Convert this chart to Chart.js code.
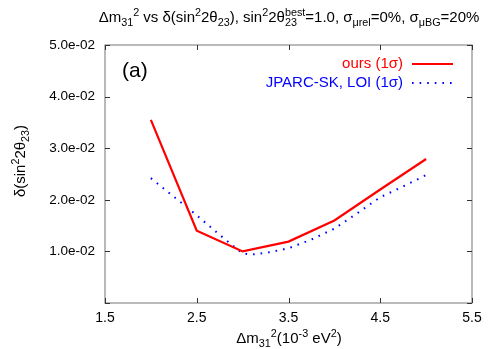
<!DOCTYPE html>
<html>
<head>
<meta charset="utf-8">
<script src="https://cdn.jsdelivr.net/npm/chart.js@4/dist/chart.umd.min.js"></script>
<style>
  html, body { margin: 0; padding: 0; background: #fff; }
  #wrap { width: 498px; height: 349px; }
</style>
</head>
<body>
<div id="wrap"><canvas id="sensChart" width="498" height="349"></canvas></div>
<script>
// values
const X_OURS = [2.0, 2.5, 3.0, 3.5, 4.0, 4.5, 5.0]
const Y_OURS = [0.0355, 0.0140, 0.0100, 0.0119, 0.0160, 0.0220, 0.0279]

const X_LOI = [2.0, 2.25, 2.5, 2.75, 3.0, 3.1, 3.25, 3.5, 3.75, 4.0, 4.25, 4.5, 4.75, 5.0]
const Y_LOI = [0.0242, 0.0206, 0.0170, 0.0132, 0.0096, 0.0094, 0.0097, 0.0106, 0.0123, 0.0144, 0.0174, 0.0205, 0.0226, 0.0248]

const X_TICKS = [1.5, 2.5, 3.5, 4.5, 5.5]
const Y_TICKS = [0, 0.01, 0.02, 0.03, 0.04, 0.05]

const FONT = '"Liberation Sans", Arial, sans-serif'

// draw text with super/subscripts; part = {t, k} where k is 'n', '^', '_' or '^_' (t = sup, s = sub)
function richWidth(ctx, parts, size) {
    let w = 0
    parts.forEach((p) => {
        if (p.k === 'n') {
            ctx.font = size + 'px ' + FONT
            w += ctx.measureText(p.t).width
        } else if (p.k === '^_') {
            ctx.font = (size * 0.72) + 'px ' + FONT
            w += Math.max(ctx.measureText(p.t).width, ctx.measureText(p.s).width)
        } else {
            ctx.font = (size * 0.72) + 'px ' + FONT
            w += ctx.measureText(p.t).width
        }
    })
    return w
}

function drawRich(ctx, parts, x, y, size, color, align) {
    ctx.save()
    ctx.fillStyle = color
    ctx.textBaseline = 'alphabetic'
    ctx.textAlign = 'left'
    let w = richWidth(ctx, parts, size)
    let cx = x
    if (align === 'center') cx = x - w / 2
    if (align === 'right') cx = x - w
    parts.forEach((p) => {
        if (p.k === 'n') {
            ctx.font = size + 'px ' + FONT
            ctx.fillText(p.t, cx, y)
            cx += ctx.measureText(p.t).width
        } else if (p.k === '^') {
            ctx.font = (size * 0.72) + 'px ' + FONT
            ctx.fillText(p.t, cx, y - size * 0.42)
            cx += ctx.measureText(p.t).width
        } else if (p.k === '_') {
            ctx.font = (size * 0.72) + 'px ' + FONT
            ctx.fillText(p.t, cx, y + size * 0.28)
            cx += ctx.measureText(p.t).width
        } else {
            ctx.font = (size * 0.72) + 'px ' + FONT
            ctx.fillText(p.t, cx, y - size * 0.42)
            ctx.fillText(p.s, cx, y + size * 0.28)
            cx += Math.max(ctx.measureText(p.t).width, ctx.measureText(p.s).width)
        }
    })
    ctx.restore()
}

const TITLE = [
    {t: 'Δm', k: 'n'}, {t: '31', k: '_'}, {t: '2', k: '^'},
    {t: ' vs δ(sin', k: 'n'}, {t: '2', k: '^'}, {t: '2θ', k: 'n'}, {t: '23', k: '_'},
    {t: '), sin', k: 'n'}, {t: '2', k: '^'}, {t: '2θ', k: 'n'}, {t: 'best', s: '23', k: '^_'},
    {t: '=1.0, σ', k: 'n'}, {t: 'μrel', k: '_'}, {t: '=0%, σ', k: 'n'}, {t: 'μBG', k: '_'},
    {t: '=20%', k: 'n'}
]
const X_TITLE = [
    {t: 'Δm', k: 'n'}, {t: '31', k: '_'}, {t: '2', k: '^'},
    {t: '(10', k: 'n'}, {t: '-3', k: '^'}, {t: ' eV', k: 'n'}, {t: '2', k: '^'}, {t: ')', k: 'n'}
]
const Y_TITLE = [
    {t: 'δ(sin', k: 'n'}, {t: '2', k: '^'}, {t: '2θ', k: 'n'}, {t: '23', k: '_'}, {t: ')', k: 'n'}
]

const decor = {
    id: 'decor',
    afterDraw(chart) {
        const ctx = chart.ctx
        const a = chart.chartArea
        const xs = chart.scales.x
        const ys = chart.scales.y

        // frame
        ctx.save()
        ctx.strokeStyle = '#8c8c8c'
        ctx.lineWidth = 1.2
        ctx.strokeRect(a.left, a.top, a.right - a.left, a.bottom - a.top)

        // inward ticks on all four sides
        ctx.strokeStyle = '#333'
        ctx.lineWidth = 1
        X_TICKS.forEach((v) => {
            const px = Math.round(xs.getPixelForValue(v)) + 0.5
            ctx.beginPath()
            ctx.moveTo(px, a.bottom); ctx.lineTo(px, a.bottom - 5)
            ctx.moveTo(px, a.top); ctx.lineTo(px, a.top + 5)
            ctx.stroke()
        })
        Y_TICKS.forEach((v) => {
            const py = Math.round(ys.getPixelForValue(v)) + 0.5
            ctx.beginPath()
            ctx.moveTo(a.left, py); ctx.lineTo(a.left + 5, py)
            ctx.moveTo(a.right, py); ctx.lineTo(a.right - 5, py)
            ctx.stroke()
        })
        ctx.restore()

        // titles
        drawRich(ctx, TITLE, 289, 22, 15, '#000', 'center')
        drawRich(ctx, X_TITLE, 289, 343, 15, '#000', 'center')
        ctx.save()
        ctx.translate(20, 161)
        ctx.rotate(-Math.PI / 2)
        drawRich(ctx, Y_TITLE, 0, 5, 15, '#000', 'center')
        ctx.restore()

        // panel label
        ctx.save()
        ctx.font = '21px ' + FONT
        ctx.fillStyle = '#000'
        ctx.textBaseline = 'middle'
        ctx.fillText('(a)', 122, 71)
        ctx.restore()

        // legend
        ctx.save()
        ctx.textAlign = 'right'
        ctx.textBaseline = 'middle'
        ctx.font = '15px ' + FONT
        ctx.fillStyle = '#ff0000'
        ctx.fillText('ours (1σ)', 403, 64)
        ctx.fillStyle = '#0000ff'
        ctx.fillText('JPARC-SK, LOI (1σ)', 403, 83)
        ctx.strokeStyle = '#ff0000'
        ctx.lineWidth = 2.2
        ctx.beginPath(); ctx.moveTo(412, 64); ctx.lineTo(453, 64); ctx.stroke()
        ctx.strokeStyle = '#0000ff'
        ctx.lineWidth = 2
        ctx.setLineDash([1.6, 6])
        ctx.beginPath(); ctx.moveTo(412, 83); ctx.lineTo(453, 83); ctx.stroke()
        ctx.restore()
    }
}

const chart = new Chart(document.getElementById('sensChart'), {
    type: 'scatter',
    data: {
        datasets: [
            {
                label: 'ours (1σ)',
                data: X_OURS.map((x, i) => ({x: x, y: Y_OURS[i]})),
                showLine: true,
                borderColor: '#ff0000',
                borderWidth: 2.2,
                pointRadius: 0,
                tension: 0
            },
            {
                label: 'JPARC-SK, LOI (1σ)',
                data: X_LOI.map((x, i) => ({x: x, y: Y_LOI[i]})),
                showLine: true,
                borderColor: '#0000ff',
                borderWidth: 2,
                borderDash: [1.6, 6],
                pointRadius: 0,
                tension: 0
            }
        ]
    },
    options: {
        responsive: false,
        animation: false,
        layout: { padding: { left: 0, right: 26, top: 45, bottom: 0 } },
        plugins: {
            legend: { display: false },
            tooltip: { enabled: false }
        },
        scales: {
            x: {
                type: 'linear',
                min: 1.5,
                max: 5.5,
                afterBuildTicks: (scale) => { scale.ticks = X_TICKS.map((v) => ({value: v})) },
                afterFit: (scale) => { scale.height = 46 },
                border: { display: false },
                grid: { display: false, drawTicks: false },
                ticks: {
                    color: '#000',
                    padding: 7,
                    maxRotation: 0,
                    font: { family: FONT, size: 14 },
                    callback: (v) => v.toFixed(1)
                }
            },
            y: {
                type: 'linear',
                min: 0,
                max: 0.05,
                afterBuildTicks: (scale) => { scale.ticks = Y_TICKS.map((v) => ({value: v})) },
                afterFit: (scale) => { scale.width = 105 },
                border: { display: false },
                grid: { display: false, drawTicks: false },
                ticks: {
                    color: '#000',
                    padding: 10,
                    font: { family: FONT, size: 13.5 },
                    callback: (v) => {
                        if (v === 0) return ''
                        const e = v.toExponential(1).split('e')
                        const exp = parseInt(e[1], 10)
                        return e[0] + 'e' + (exp < 0 ? '-' : '+') + String(Math.abs(exp)).padStart(2, '0')
                    }
                }
            }
        }
    },
    plugins: [decor]
});
</script>
</body>
</html>
